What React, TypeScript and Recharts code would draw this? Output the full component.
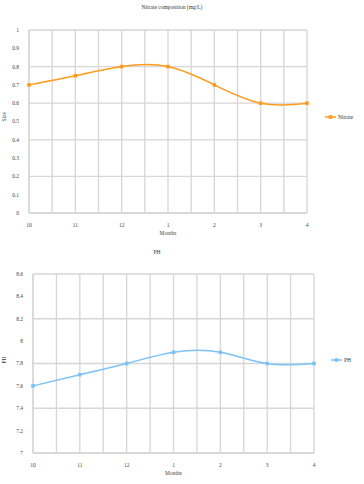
import {LineChart, Line, XAxis, YAxis, CartesianGrid, ReferenceLine} from "recharts";

const months = ["10", "11", "12", "1", "2", "3", "4"];
const nitrate = [0.7, 0.75, 0.8, 0.8, 0.7, 0.6, 0.6];
const ph = [7.6, 7.7, 7.8, 7.9, 7.9, 7.8, 7.8];
const nitrateTicks = [0, 0.1, 0.2, 0.3, 0.4, 0.5, 0.6, 0.7, 0.8, 0.9, 1];
const phTicks = [7, 7.2, 7.4, 7.6, 7.8, 8, 8.2, 8.4, 8.6];

const idx = months.map((_, i) => i);
const halves = months.slice(1).map((_, i) => i + 0.5);

const nitrateData = months.map((m, i) => ({x: i, month: m, value: nitrate[i]}));
const phData = months.map((m, i) => ({x: i, month: m, value: ph[i]}));

const FONT = "'Liberation Serif', serif";
const GRID = "#d6d6d6";

function Square(props: any) {
  const {cx, cy, stroke} = props;
  if (cx == null || cy == null) return null;
  return <rect x={cx - 1.8} y={cy - 1.8} width={3.6} height={3.6} fill={stroke} />;
}

type PanelProps = {
  top: number;
  title: string;
  titleX: number;
  titleY: number;
  data: {x: number; month: string; value: number}[];
  ticks: number[];
  yLabel: string;
  color: string;
  name: string;
  height: number;
  margin: {top: number; right: number; bottom: number; left: number};
  yWidth: number;
  legendTop: number;
  legendLeft: number;
};

function Panel(p: PanelProps) {
  const domain: [number, number] = [p.ticks[0], p.ticks[p.ticks.length - 1]];
  return (
    <div style={{position: "absolute", left: 0, top: p.top, width: 364, height: p.height}}>
      <div
        style={{
          position: "absolute",
          left: p.titleX - 60,
          width: 120,
          top: p.titleY - 4,
          textAlign: "center",
          fontFamily: FONT,
          fontSize: 5.5,
          lineHeight: "8px",
          color: "#333",
        }}
      >
        {p.title}
      </div>
      <div
        style={{
          position: "absolute",
          top: p.legendTop - 3,
          left: p.legendLeft,
          display: "flex",
          alignItems: "center",
          fontFamily: FONT,
          fontSize: 5.5,
          lineHeight: "6px",
          color: "#333",
          whiteSpace: "nowrap",
        }}
      >
        <svg width={11} height={6}>
          <line x1={0} y1={3} x2={11} y2={3} stroke={p.color} strokeWidth={1.5} />
          <rect x={3.7} y={1.2} width={3.6} height={3.6} fill={p.color} />
        </svg>
        <span style={{marginLeft: 2}}>{p.name}</span>
      </div>
      <div style={{position: "absolute", left: 0, top: 0}}>
        <LineChart width={364} height={p.height} data={p.data} margin={p.margin}>
          <CartesianGrid stroke={GRID} strokeWidth={1.3} />
          {halves.map((h) => (
            <ReferenceLine key={h} x={h} stroke={GRID} strokeWidth={1.3} />
          ))}
          <XAxis
            dataKey="x"
            type="number"
            domain={[0, months.length - 1]}
            ticks={idx}
            tickFormatter={(v) => months[v]}
            tick={{fontSize: 5.5, fill: "#444", fontFamily: FONT}}
            tickLine={false}
            axisLine={{stroke: GRID, strokeWidth: 1.3}}
            tickMargin={4}
            height={22}
            label={{value: "Months", position: "insideBottom", offset: 0, fontSize: 5.5, fill: "#444", fontFamily: FONT}}
          />
          <YAxis
            type="number"
            domain={domain}
            ticks={p.ticks}
            width={p.yWidth}
            tick={{fontSize: 5.5, fill: "#444", fontFamily: FONT}}
            tickLine={false}
            axisLine={{stroke: GRID, strokeWidth: 1.3}}
            tickMargin={4}
            label={{value: p.yLabel, angle: -90, position: "insideLeft", offset: 4, fontSize: 5.5, fill: "#444", fontFamily: FONT}}
          />
          <Line
            type="natural"
            dataKey="value"
            name={p.name}
            stroke={p.color}
            strokeWidth={1.5}
            dot={<Square />}
            activeDot={false}
            isAnimationActive={false}
          />
        </LineChart>
      </div>
    </div>
  );
}

export default function App() {
  return (
    <div style={{position: "absolute", left: 0, top: 0, width: 364, height: 484, background: "#fff"}}>
      <Panel
        top={0}
        title="Nitrate composition (mg/L)"
        titleX={172}
        titleY={7}
        data={nitrateData}
        ticks={nitrateTicks}
        yLabel="Size"
        color="#ff9a1a"
        name="Nitrate"
        height={240}
        margin={{top: 30, right: 57, bottom: 5, left: 0}}
        yWidth={29}
        legendTop={117}
        legendLeft={325}
      />
      <Panel
        top={240}
        title="PH"
        titleX={157}
        titleY={12}
        data={phData}
        ticks={phTicks}
        yLabel="PH"
        color="#7cc2f7"
        name="PH"
        height={244}
        margin={{top: 34, right: 50, bottom: 9, left: 0}}
        yWidth={33}
        legendTop={120}
        legendLeft={331}
      />
    </div>
  );
}
